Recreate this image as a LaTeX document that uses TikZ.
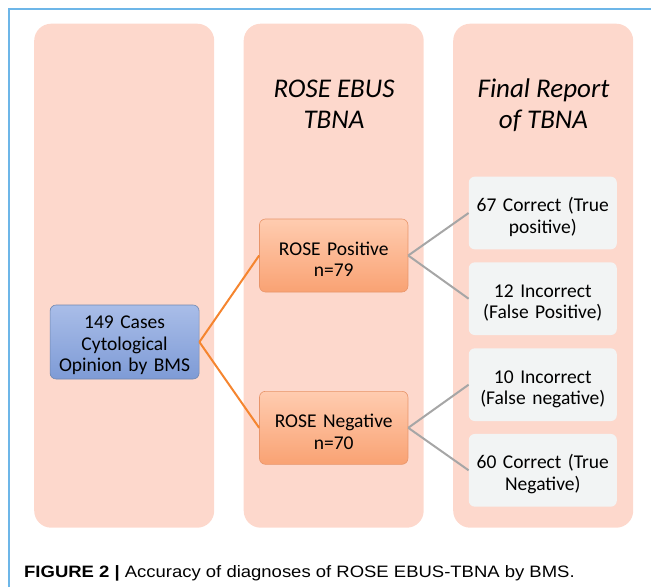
\documentclass[tikz,border=0pt]{standalone}
\usepackage{graphicx}
\usepackage{fontspec}
\setmainfont{Carlito}
\newfontfamily\capfont{Liberation Sans}
\definecolor{panel}{HTML}{FDD8CC}
\definecolor{frameblue}{HTML}{6DB6E8}
\definecolor{bluetop}{HTML}{A9BDE8}
\definecolor{bluebot}{HTML}{7E9BD6}
\definecolor{blueedge}{HTML}{7088B0}
\definecolor{orgtop}{HTML}{FFCCB0}
\definecolor{orgbot}{HTML}{F9A273}
\definecolor{orgedge}{HTML}{E8956A}
\definecolor{leaf}{HTML}{F2F4F4}
\definecolor{orgline}{HTML}{F5852F}
\definecolor{grayline}{HTML}{A6A6A6}
\tikzset{
  panelbox/.style={fill=panel, draw=none, rounded corners=17pt, minimum width=180pt, minimum height=504pt, anchor=north west},
  boxtext/.style={align=center, font=\fontsize{19.5}{21.7}\selectfont, inner sep=2pt, text height=13pt},
  rootbox/.style={boxtext, top color=bluetop, bottom color=bluebot, draw=blueedge, line width=0.6pt, rounded corners=6pt,
    minimum width=149pt, minimum height=74pt, text width=145pt, text depth=40.4pt},
  rosebox/.style={boxtext, top color=orgtop, bottom color=orgbot, draw=orgedge, line width=0.6pt, rounded corners=6pt,
    minimum width=148.5pt, minimum height=73pt, text width=144pt, text depth=14pt},
  leafbox/.style={boxtext, fill=leaf, draw=none, rounded corners=6pt,
    minimum width=148pt, minimum height=72.7pt, text width=144pt, text depth=16pt},
  heading/.style={align=center, anchor=base, font=\fontsize{27}{31}\selectfont\itshape},
  orglink/.style={draw=orgline, line width=2pt},
  graylink/.style={draw=grayline, line width=2pt},
}
\begin{document}
\begin{tikzpicture}[x=1pt, y=-1pt]
\useasboundingbox (0,0) rectangle (651,587);
% frame
\draw[frameblue, line width=1.4pt] (9,587) -- (9,8.8) -- (651,8.8);
% column panels
\node[panelbox] (p1) at (34,23.5) {};
\node[panelbox] (p2) at (243.5,23.5) {};
\node[panelbox] (p3) at (453,23.5) {};
% headings (base anchor sits on the last line)
\node[heading] (h2) at (334,128.3) {ROSE EBUS\\TBNA};
\node[heading] (h3) at (543.5,128.3) {Final Report\\of TBNA};
% nodes
\node[rootbox] (root) at (124.6,342) {149 Cases\\Cytological\\Opinion by BMS};
\node[rosebox] (pos) at (333.7,255.5) {ROSE Positive\\n=79};
\node[rosebox] (neg) at (333.7,427.8) {ROSE Negative\\n=70};
\node[leafbox] (tp) at (542.8,213) {67 Correct (True\\positive)};
\node[leafbox] (fp) at (542.8,298.7) {12 Incorrect\\(False Positive)};
\node[leafbox] (fn) at (542.8,384.7) {10 Incorrect\\(False negative)};
\node[leafbox] (tn) at (542.8,470.3) {60 Correct (True\\Negative)};
% connectors
\draw[orglink] (root.east) -- (pos.west);
\draw[orglink] (root.east) -- (neg.west);
\draw[graylink] (pos.east) -- (tp.west);
\draw[graylink] (pos.east) -- (fp.west);
\draw[graylink] (neg.east) -- (fn.west);
\draw[graylink] (neg.east) -- (tn.west);
% caption
\node[anchor=base west, inner sep=0pt, font=\capfont\fontsize{16.5}{20}\selectfont] (cap) at (24,577)
  {\scalebox{1.12}[1]{\textbf{FIGURE 2 |} Accuracy of diagnoses of ROSE EBUS-TBNA by BMS.}};
\end{tikzpicture}
\end{document}
